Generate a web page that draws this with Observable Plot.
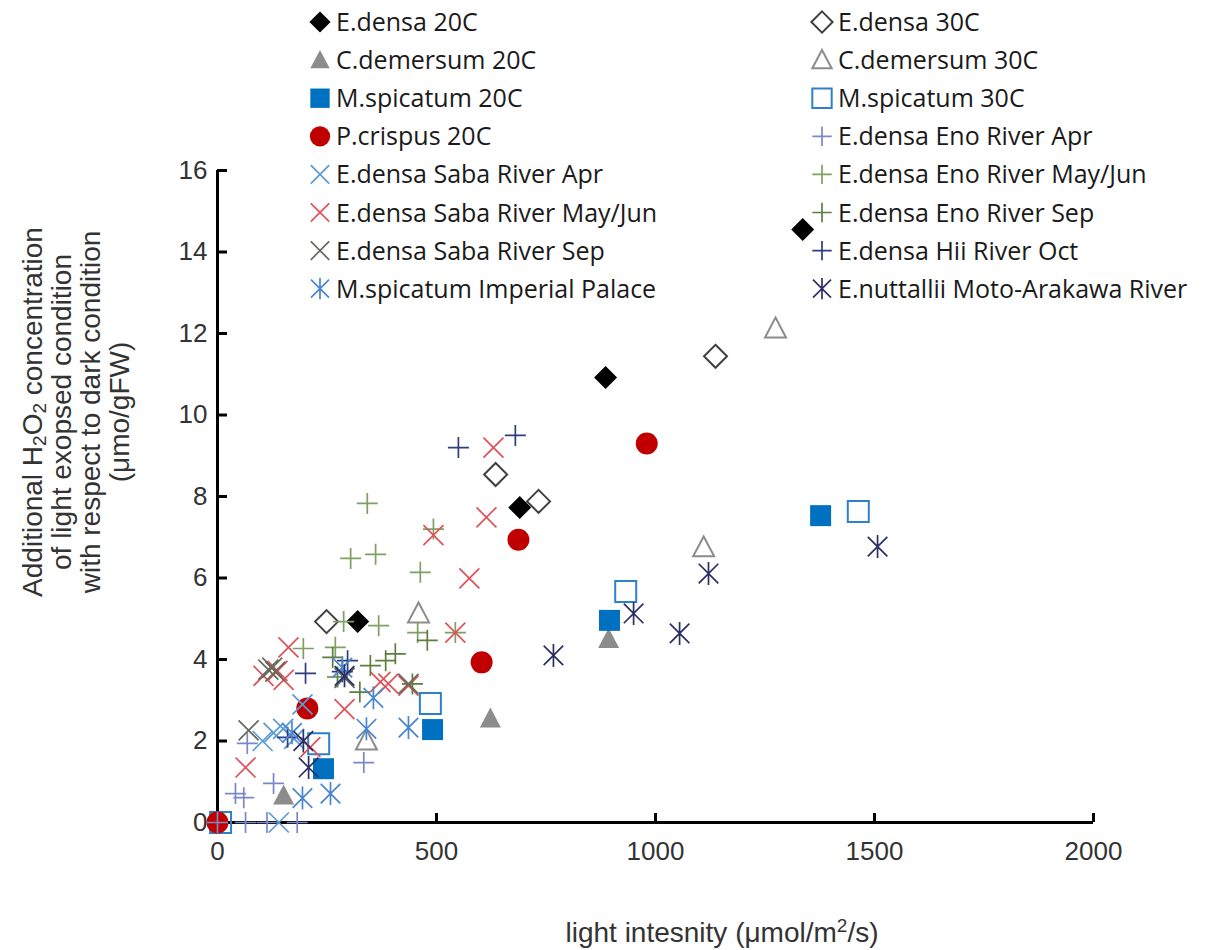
<!DOCTYPE html>
<html><head><meta charset="utf-8">
<script src="https://cdn.jsdelivr.net/npm/d3@7"></script>
<script src="https://cdn.jsdelivr.net/npm/@observablehq/plot@0.6"></script>
<style>
html,body{margin:0;padding:0;background:#fff;}
#chart{position:relative;width:1223px;height:950px;}
</style></head><body><div id="chart"></div>
<script>
// ---------- data (x: light intensity, y: additional H2O2) ----------
const seriesNames = [
  "E.densa 20C","E.densa 30C","C.demersum 20C","C.demersum 30C",
  "M.spicatum 20C","M.spicatum 30C","P.crispus 20C","E.densa Eno River Apr",
  "E.densa Saba River Apr","E.densa Eno River May/Jun","E.densa Saba River May/Jun","E.densa Eno River Sep",
  "E.densa Saba River Sep","E.densa Hii River Oct","M.spicatum Imperial Palace","E.nuttallii Moto-Arakawa River"
];
const eDensa20 = [[320,4.93],[690,7.73],[886,10.92],[1336,14.55]];
const eDensa30 = [[249,4.93],[635,8.54],[733,7.88],[1137,11.44]];
const cDemersum20 = [[151,0.66],[623,2.55],[893,4.5]];
const cDemersum30 = [[340,2.01],[459,5.13],[1110,6.75],[1274,12.12]];
const mSpicatum20 = [[242,1.32],[491,2.28],[895,4.96],[1377,7.53]];
const mSpicatum30 = [[7,0],[231,1.93],[486,2.92],[932,5.67],[1463,7.63]];
const pCrispus20 = [[0,0],[205,2.8],[603,3.93],[687,6.94],[980,9.3]];
const enoApr = [[0,0],[64,0],[113,0],[182,0],[41,0.71],[60,0.61],[128,0.96],[68,1.94],[334,1.47]];
const sabaApr = [[140,0],[103,2.0],[128,2.2],[150,2.3],[194,2.9],[175,2.05]];
const enoMayJun = [[304,6.48],[361,6.58],[342,7.83],[493,7.2],[463,6.14],[288,4.93],[368,4.83],[457,4.66],[196,4.27],[269,4.3],[543,4.66]];
const sabaMayJun = [[64,1.35],[105,3.6],[137,3.72],[162,4.3],[151,3.5],[212,1.85],[290,2.78],[372,3.45],[390,3.41],[436,3.36],[543,4.66],[493,7.05],[575,5.99],[614,7.49],[630,9.2]];
const enoSep = [[263,4.05],[349,3.85],[384,3.97],[406,4.14],[479,4.47],[274,3.57],[325,3.2],[445,3.4]];
const sabaSep = [[71,2.26],[116,3.75],[125,3.8],[132,3.7],[290,3.55],[436,3.4]];
const hiiOct = [[550,9.2],[680,9.5],[201,3.66],[160,2.09],[297,3.97],[285,3.7]];
const imperialPalace = [[194,0.6],[258,0.71],[340,2.3],[356,3.06],[436,2.33],[170,2.2],[285,3.8]];
const nuttallii = [[208,1.35],[196,2.0],[767,4.1],[950,5.13],[1055,4.64],[1121,6.11],[1507,6.77],[290,3.6]];
const xTicks = [0,500,1000,1500,2000];
const yTicks = [0,2,4,6,8,10,12,14,16];

const seriesData = [eDensa20,eDensa30,cDemersum20,cDemersum30,mSpicatum20,mSpicatum30,pCrispus20,enoApr,
  sabaApr,enoMayJun,sabaMayJun,enoSep,sabaSep,hiiOct,imperialPalace,nuttallii];

// ---------- marker shapes ----------
const mk = f => ({draw(c, size){ f(c, Math.sqrt(size/Math.PI)); }});
const symDiamond = mk((c,r)=>{c.moveTo(0,-r);c.lineTo(r,0);c.lineTo(0,r);c.lineTo(-r,0);c.closePath();});
const symSquare = mk((c,r)=>{c.moveTo(-r,-r);c.lineTo(r,-r);c.lineTo(r,r);c.lineTo(-r,r);c.closePath();});
const symTriangle = mk((c,r)=>{c.moveTo(0,-1.05*r);c.lineTo(r,0.85*r);c.lineTo(-r,0.85*r);c.closePath();});
const symCircle = mk((c,r)=>{c.moveTo(r,0);c.arc(0,0,r,0,2*Math.PI);c.closePath();});
const symPlus = mk((c,r)=>{c.moveTo(-r,0);c.lineTo(r,0);c.moveTo(0,-r);c.lineTo(0,r);});
const symTimes = mk((c,r)=>{c.moveTo(-r,-r);c.lineTo(r,r);c.moveTo(r,-r);c.lineTo(-r,r);});
const symStar = mk((c,r)=>{const a=0.85*r;c.moveTo(-a,-a);c.lineTo(a,a);c.moveTo(a,-a);c.lineTo(-a,a);c.moveTo(0,-r);c.lineTo(0,r);});

const styles = [
  {symbol:symDiamond, r:11.5, fill:"#000000", stroke:"none"},
  {symbol:symDiamond, r:11.5, fill:"none", stroke:"#404040", sw:2},
  {symbol:symTriangle, r:10.5, fill:"#8c8c8c", stroke:"none"},
  {symbol:symTriangle, r:10.5, fill:"none", stroke:"#8c8c8c", sw:2},
  {symbol:symSquare, r:10.5, fill:"#0070c0", stroke:"none"},
  {symbol:symSquare, r:10.5, fill:"none", stroke:"#2e80c8", sw:2},
  {symbol:symCircle, r:11, fill:"#c00000", stroke:"none"},
  {symbol:symPlus, r:10.5, fill:"none", stroke:"#7a88c8", sw:1.7},
  {symbol:symTimes, r:10, fill:"none", stroke:"#5b9bd5", sw:1.7},
  {symbol:symPlus, r:10.5, fill:"none", stroke:"#7f9f63", sw:1.7},
  {symbol:symTimes, r:10, fill:"none", stroke:"#e0505a", sw:1.7},
  {symbol:symPlus, r:10.5, fill:"none", stroke:"#5e7e3e", sw:1.7},
  {symbol:symTimes, r:10, fill:"none", stroke:"#666b5c", sw:1.7},
  {symbol:symPlus, r:10.5, fill:"none", stroke:"#2e3d7c", sw:1.7},
  {symbol:symStar, r:11.5, fill:"none", stroke:"#4a85d0", sw:1.7},
  {symbol:symStar, r:11.5, fill:"none", stroke:"#2a2f65", sw:1.7}
];

const W = 1223, H = 950, ML = 217, MR = 130, MT = 170, MB = 128;
const axisFont = "'Liberation Sans', Arial, sans-serif";

const dotMarks = seriesData.map((data, i) => {
  const s = styles[i];
  return Plot.dot(data, {x: d => d[0], y: d => d[1], symbol: s.symbol, r: s.r,
    fill: s.fill, stroke: s.stroke, strokeWidth: s.sw || 0});
});

const plot = Plot.plot({
  width: W, height: H,
  marginLeft: ML, marginRight: MR, marginTop: MT, marginBottom: MB,
  x: {domain: [0, 2000], axis: null},
  y: {domain: [0, 16], axis: null},
  style: {fontFamily: axisFont, background: "white", overflow: "visible"},
  marks: [
    Plot.tickX(xTicks, {x: d => d, insetTop: (H - MT - MB) - 9, stroke: "#000", strokeWidth: 3}),
    Plot.tickY(yTicks, {y: d => d, insetRight: (W - ML - MR) - 10, stroke: "#000", strokeWidth: 3}),
    Plot.ruleX([0], {stroke: "#000", strokeWidth: 3}),
    Plot.ruleY([0], {stroke: "#000", strokeWidth: 3}),
    Plot.text(xTicks, {x: d => d, text: d => String(d), frameAnchor: "bottom", dy: 37, fontSize: 26, fill: "#333"}),
    Plot.text(yTicks, {y: d => d, text: d => String(d), frameAnchor: "left", textAnchor: "end", dx: -10, fontSize: 26, fill: "#333"}),
    ...dotMarks
  ]
});
document.getElementById("chart").appendChild(plot);

const svg = d3.select(plot);

// y-axis title
const yTitle = [
  [["Additional H",0],["2",1],["O",0],["2",1],[" concentration",0]],
  [["of light exopsed condition",0]],
  [["with respect to dark condition",0]],
  [["(\u03bcmo/gFW)",0]]
];
const yLineX = [32, 61, 90, 119];
yTitle.forEach((parts, li) => {
  const t = svg.append("text")
    .attr("transform", `translate(${yLineX[li]},412) rotate(-90)`)
    .attr("text-anchor", "middle").attr("dominant-baseline", "central")
    .attr("font-family", axisFont).attr("font-size", 28).attr("fill", "#333");
  let shifted = false;
  parts.forEach(([s, sub]) => {
    const ts = t.append("tspan").text(s);
    if (sub) { ts.attr("font-size", 19).attr("dy", 7); shifted = true; }
    else if (shifted) { ts.attr("dy", -7); shifted = false; }
  });
});

// x-axis title
const xt = svg.append("text").attr("x", 722).attr("y", 942).attr("text-anchor", "middle")
  .attr("font-family", axisFont).attr("font-size", 28).attr("fill", "#333");
xt.append("tspan").text("light intesnity (\u03bcmol/m");
xt.append("tspan").text("2").attr("font-size", 19).attr("dy", -10);
xt.append("tspan").text("/s)").attr("dy", 10);

// legend
const lg = svg.append("g").attr("text-anchor", "start");
seriesNames.forEach((name, i) => {
  const col = i % 2, row = Math.floor(i / 2);
  const mx = col ? 822 : 320, cy = 22 + row * 38.1;
  const s = styles[i];
  lg.append("path")
    .attr("d", d3.symbol().type(s.symbol).size(Math.PI * s.r * s.r * 0.85)())
    .attr("transform", `translate(${mx},${cy})`)
    .attr("fill", s.fill).attr("stroke", s.stroke).attr("stroke-width", s.sw || 0);
  lg.append("text").attr("x", mx + 16).attr("y", cy + 9).attr("text-anchor", "start")
    .attr("font-family", "'Open Sans', sans-serif").attr("font-size", 25).attr("fill", "#1a1a1a")
    .text(name);
});
</script></body></html>
